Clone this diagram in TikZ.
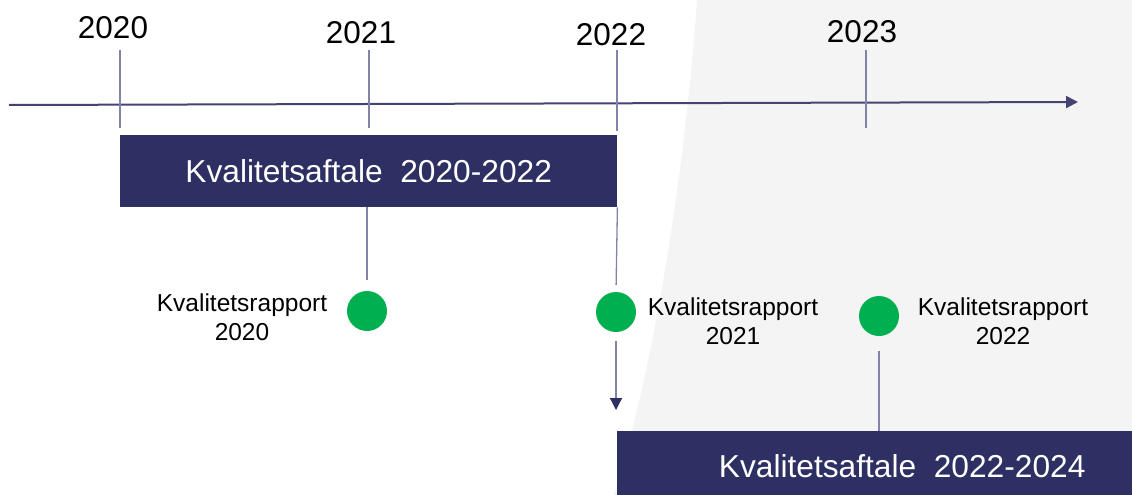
\documentclass[tikz,border=0pt]{standalone}
\usepackage{fontspec}
\setmainfont{Liberation Sans}
\usetikzlibrary{arrows.meta}

\definecolor{navy}{HTML}{2E2F62}
\definecolor{linegray}{HTML}{8183A8}
\definecolor{dotgreen}{HTML}{00B050}
\definecolor{bggray}{HTML}{F4F4F4}

\begin{document}
\begin{tikzpicture}[x=1pt, y=-1pt,
  axisline/.style={draw=navy!90, line width=2pt},
  tick/.style={draw=linegray, line width=1.3pt},
  dot/.style={circle, fill=dotgreen, minimum size=40pt, inner sep=0pt},
  bar/.style={fill=navy, text=white, inner sep=0pt, font=\fontsize{31.7}{36}\selectfont},
  year/.style={inner sep=0pt, font=\fontsize{31.5}{36}\selectfont},
  report/.style={align=center, inner sep=0pt, font=\fontsize{24.5}{29}\selectfont}]
  \useasboundingbox (0,0) rectangle (1132,495);
  \clip (0,0) rectangle (1132,495);
  \fill[bggray] (697,0) .. controls (688,130) and (662,340) .. (614,495) -- (1132,495) -- (1132,0) -- cycle;

  % time axis
  \coordinate (axisL) at (9,105);
  \coordinate (axisR) at (1078,102);
  \draw[axisline, -{Triangle[length=12pt, width=12pt]}] (axisL) -- (axisR);

  % years
  \node[year] (y2020) at (113,28) {2020};
  \node[year] (y2021) at (361,33) {2021};
  \node[year] (y2022) at (611,35) {2022};
  \node[year] (y2023) at (862,32) {2023};
  \coordinate (t2020) at (120,50);  \coordinate (b2020) at (120,128);
  \coordinate (t2021) at (369,50);  \coordinate (b2021) at (369,128);
  \coordinate (t2022) at (617,50);  \coordinate (b2022) at (617,131);
  \coordinate (t2023) at (866,50);  \coordinate (b2023) at (866,128);
  \draw[tick] (t2020) -- (b2020);
  \draw[tick] (t2021) -- (b2021);
  \draw[tick] (t2022) -- (b2022);
  \draw[tick] (t2023) -- (b2023);

  % agreements
  \node[bar, minimum width=497pt, minimum height=72pt, anchor=north west] (agree1) at (120,135) {Kvalitetsaftale\ \ 2020-2022};
  \node[bar, minimum width=570pt, minimum height=70pt, anchor=north west] (agree2) at (617,431) {Kvalitetsaftale\ \ 2022-2024};

  % reports
  \node[dot] (r2020) at (367,311) {};
  \node[dot] (r2021) at (616,312) {};
  \node[dot] (r2022) at (879,316) {};
  \node[report] (l2020) at (242,317) {Kvalitetsrapport\\2020};
  \node[report] (l2021) at (733,321) {Kvalitetsrapport\\2021};
  \node[report] (l2022) at (1003,321) {Kvalitetsrapport\\2022};
  \coordinate (down2021) at (616,410);

  \draw[tick, shorten >=11pt] (agree1.south -| r2020) -- (r2020.north);
  \draw[tick, shorten >=7pt] (agree1.south east) -- (r2021.north);
  \draw[tick, shorten <=9pt, -{Triangle[length=12pt, width=12pt, color=navy]}] (r2021.south) -- (down2021);
  \draw[tick, shorten <=15pt] (r2022.south) -- (agree2.north -| r2022);
\end{tikzpicture}
\end{document}
